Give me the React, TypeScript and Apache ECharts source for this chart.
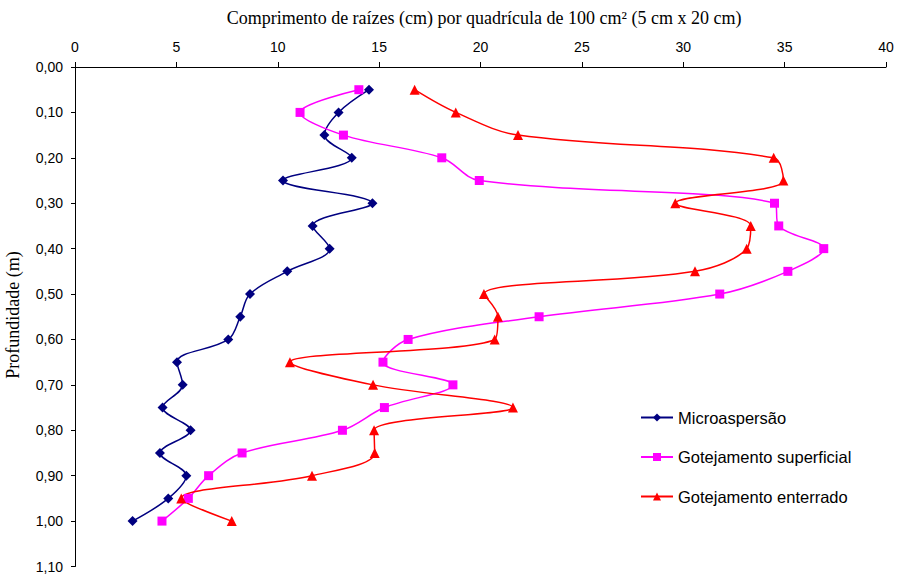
import React, { useEffect, useRef } from "react";
import * as echarts from "echarts";

const depths = [0.05, 0.1, 0.15, 0.2, 0.25, 0.3, 0.35, 0.4, 0.45, 0.5, 0.55, 0.6, 0.65, 0.7, 0.75, 0.8, 0.85, 0.9, 0.95, 1.0];

const microaspersao = [14.5, 13.0, 12.3, 13.65, 10.26, 14.67, 11.72, 12.56, 10.47, 8.63, 8.15, 7.56, 5.03, 5.31, 4.32, 5.7, 4.19, 5.49, 4.6, 2.84];
const gotSuperficial = [14.0, 11.1, 13.24, 18.09, 19.94, 34.5, 34.71, 36.93, 35.16, 31.8, 22.89, 16.43, 15.19, 18.64, 15.26, 13.19, 8.24, 6.59, 5.59, 4.29];
const gotEnterrado = [16.75, 18.78, 21.85, 34.46, 34.94, 29.61, 33.33, 33.13, 30.58, 20.17, 20.86, 20.7, 10.6, 14.7, 21.6, 14.75, 14.78, 11.69, 5.24, 7.73];

const seriesNames = ["Microaspersão", "Gotejamento superficial", "Gotejamento enterrado"];
const xTitle = "Comprimento de raízes (cm) por quadrícula de 100 cm² (5 cm x 20 cm)";
const yTitle = "Profundidade (m)";

const toPairs = (vals: number[]) => vals.map((v, i) => [v, depths[i]]);

export default function App() {
  const ref = useRef<HTMLDivElement>(null);
  useEffect(() => {
    if (!ref.current) return;
    const chart = echarts.init(ref.current, null, { renderer: "svg" });
    const axisColor = "#000";
    const mk = (name: string, data: number[], color: string, symbol: string, size: number) => ({
      name,
      type: "line",
      data: toPairs(data),
      smooth: 0.35,
      symbol,
      symbolSize: size,
      showSymbol: true,
      itemStyle: { color },
      lineStyle: { color, width: 1.5 },
    });
    chart.setOption({
      animation: false,
      backgroundColor: "#fff",
      grid: { left: 75, top: 67, right: 15, bottom: 8.5, containLabel: false },
      xAxis: {
        type: "value",
        position: "top",
        min: 0,
        max: 40,
        interval: 5,
        splitLine: { show: false },
        axisLine: { show: true, lineStyle: { color: axisColor, width: 1 } },
        axisTick: { show: true, length: 5, lineStyle: { color: axisColor } },
        axisLabel: { color: "#000", fontFamily: "Liberation Sans", fontSize: 14, margin: 13 },
      },
      yAxis: {
        type: "value",
        inverse: true,
        min: 0,
        max: 1.1,
        interval: 0.1,
        splitLine: { show: false },
        axisLine: { show: true, onZero: false, lineStyle: { color: axisColor, width: 1 } },
        axisTick: { show: true, length: 4, lineStyle: { color: axisColor } },
        axisLabel: {
          color: "#000",
          fontFamily: "Liberation Sans",
          fontSize: 14,
          margin: 12,
          formatter: (v: number) => v.toFixed(2).replace(".", ","),
        },
      },
      legend: {
        orient: "vertical",
        left: 635,
        top: 404,
        itemWidth: 32,
        itemHeight: 10,
        itemGap: 22.5,
        textStyle: { color: "#000", fontFamily: "Liberation Sans", fontSize: 16.5 },
        data: seriesNames,
      },
      graphic: [
        {
          type: "text",
          x: 484,
          y: 18,
          style: {
            text: xTitle,
            fill: "#000",
            font: "18px 'Liberation Serif'",
            textAlign: "center",
            textVerticalAlign: "middle",
          },
        },
        {
          type: "text",
          x: 13,
          y: 315,
          rotation: Math.PI / 2,
          style: {
            text: yTitle,
            fill: "#000",
            font: "18px 'Liberation Serif'",
            textAlign: "center",
            textVerticalAlign: "middle",
          },
        },
      ],
      series: [
        mk(seriesNames[0], microaspersao, "#000080", "diamond", 10),
        mk(seriesNames[1], gotSuperficial, "#FF00FF", "rect", 9),
        mk(seriesNames[2], gotEnterrado, "#FF0000", "triangle", 10),
      ],
    });
    return () => chart.dispose();
  }, []);
  return <div ref={ref} style={{ position: "fixed", left: 0, top: 0, width: 901, height: 575 }} />;
}
